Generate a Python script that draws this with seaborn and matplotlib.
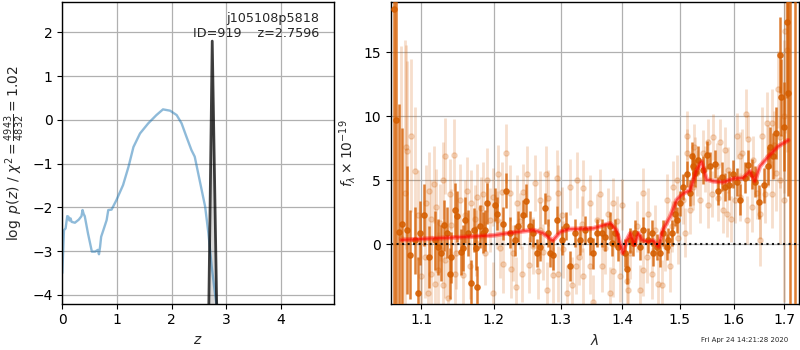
import matplotlib
matplotlib.use("Agg")
import matplotlib.pyplot as plt
import matplotlib.ticker as mticker
import seaborn as sns
import pandas as pd

# ---------------- data: left panel (redshift PDF) ----------------
pz_z = [0.0, 0.03, 0.06, 0.09, 0.11, 0.13, 0.15, 0.17, 0.23, 0.30, 0.35, 0.37,
        0.39, 0.41, 0.47, 0.54, 0.60, 0.65, 0.67, 0.69, 0.71, 0.75, 0.81, 0.84,
        0.90, 0.99, 1.11, 1.21, 1.30, 1.42, 1.57, 1.72, 1.84, 1.97, 2.09, 2.18,
        2.27, 2.36, 2.42, 2.51, 2.61, 2.67, 2.73, 2.79, 2.85]
pz_logp = [-3.50, -2.52, -2.48, -2.20, -2.21, -2.30, -2.25, -2.33, -2.35, -2.28,
           -2.20, -2.06, -2.15, -2.20, -2.60, -3.01, -3.01, -2.97, -3.07, -2.90,
           -2.67, -2.52, -2.29, -2.06, -2.05, -1.83, -1.49, -1.07, -0.62, -0.31,
           -0.08, 0.11, 0.24, 0.21, 0.11, -0.08, -0.39, -0.69, -0.84, -1.38,
           -1.98, -2.59, -3.35, -3.96, -4.50]
peak_z = [2.675, 2.74, 2.825]
peak_logp = [-4.5, 1.80, -4.5]
label_src = "j105108p5818"
label_id = "ID=919    z=2.7596"

# ---------------- data: right panel (spectrum) ----------------
bin_wave = [1.0649, 1.0676, 1.0710, 1.0748, 1.0817, 1.0856, 1.0913, 1.0956, 1.0979,
            1.1036, 1.1106, 1.1178, 1.1222, 1.1267, 1.1304, 1.1349, 1.1381, 1.1403,
            1.1450, 1.1485, 1.1532, 1.1564, 1.1596, 1.1634, 1.1680, 1.1718, 1.1750,
            1.1765, 1.1799, 1.1846, 1.1869, 1.1907,
            1.2017, 1.2050, 1.2137, 1.2176, 1.2235, 1.2308, 1.2357, 1.2431, 1.2471,
            1.2531, 1.2581, 1.2633, 1.2683, 1.2759, 1.2810, 1.2836, 1.2878, 1.2940,
            1.3018, 1.3085, 1.3148, 1.3227, 1.3307, 1.3387, 1.3468, 1.3511,
            1.3576, 1.3658, 1.3712, 1.3795, 1.3824, 1.3878, 1.3933, 1.4045, 1.4084,
            1.4130, 1.4187, 1.4215, 1.4301, 1.4358, 1.4444, 1.4502, 1.4530, 1.4589,
            1.4647, 1.4705, 1.4765, 1.4794, 1.4854, 1.4914, 1.4955, 1.5004, 1.5063,
            1.5125, 1.5185, 1.5216, 1.5245, 1.5276, 1.5337, 1.5418, 1.5492, 1.5554,
            1.5647, 1.5709, 1.5773, 1.5836, 1.5918, 1.5983, 1.6060, 1.6124, 1.6221,
            1.6285, 1.6352, 1.6417, 1.6502, 1.6582, 1.6662, 1.6716, 1.6770, 1.6837,
            1.6904, 1.6932, 1.6985, 1.7054, 1.7075, 1.7121, 1.7225]
bin_flux = [18.4, 9.7, 1.0, 1.6, 1.1, -0.8, 0.3, -3.8, 0.9,
            2.3, -1.0, 0.3, -0.2, -0.7, 1.5, 0.9, -2.3, -1.0,
            2.7, 2.2, -0.6, -0.3, 1.9, 0.9, -3.0, 1.1, -0.3,
            -3.3, 1.4, 0.9, 1.1, 3.2,
            3.1, 2.4, 1.6, 4.2, 0.9, 0.3, 1.4, 2.3, 3.4,
            1.4, 0.9, -0.7, -0.2, 2.8, 0.9, -0.7, -0.8, 1.9,
            0.3, 1.4, -1.7, 0.9, 0.3, 1.1, 0.3, -0.7,
            0.9, 0.9, 0.6, 1.4, 0.1, 0.9, -0.2, -0.7, -1.9,
            0.3, 0.1, 0.9, -0.2, 1.1, 0.3, 0.9, -0.7, -0.2,
            -0.7, 0.9, -0.2, 0.3, 0.9, 2.4, 1.9, 3.2, 4.5,
            5.5, 4.0, 6.9, 6.1, 5.6, 6.6, 5.8, 7.0, 6.1,
            6.3, 4.2, 5.3, 4.5, 4.6, 5.5, 4.9, 3.5, 5.2,
            6.2, 5.5, 4.9, 3.3, 4.6, 6.1, 7.6, 6.9, 8.7,
            14.8, 11.5, 9.2, 17.4, 11.8, -12.0, -14.0]
bin_err = [25.0, 15.0, 10.0, 7.5, 5.0, 3.5, 2.6, 2.8, 2.5,
           2.4, 2.4, 2.3, 2.2, 2.2, 2.0, 2.0, 2.0, 2.0,
           2.1, 2.0, 1.8, 1.8, 1.8, 1.8, 1.8, 1.7, 1.7,
           1.6, 1.7, 1.6, 1.6, 1.6,
           1.3, 1.3, 1.3, 1.4, 1.2, 1.2, 1.2, 1.2, 1.3,
           1.2, 1.1, 1.1, 1.1, 1.2, 1.1, 1.1, 1.2, 1.1,
           1.1, 1.1, 1.2, 1.1, 1.1, 1.1, 1.1, 1.2,
           1.1, 1.1, 1.1, 1.1, 1.0, 1.1, 1.1, 1.1, 1.2,
           1.0, 1.0, 1.0, 1.0, 1.0, 1.0, 1.0, 1.0, 1.0,
           1.1, 1.0, 1.0, 1.0, 1.0, 1.0, 1.0, 1.0, 1.0,
           1.0, 1.0, 1.1, 1.0, 1.1, 1.1, 1.1, 1.1, 1.1,
           1.1, 1.1, 1.1, 1.1, 1.1, 1.1, 1.1, 1.2, 1.2,
           1.2, 1.2, 1.2, 1.3, 1.4, 1.5, 1.6, 1.8, 2.0,
           3.0, 3.0, 3.5, 6.0, 8.0, 40.0, 40.0]

raw_wave = [1.0730, 1.0790, 1.0804, 1.0812, 1.0861, 1.0913, 1.0956, 1.1000, 1.1045,
            1.1066, 1.1089, 1.1098, 1.1133, 1.1133, 1.1165, 1.1178, 1.1199, 1.1222,
            1.1245, 1.1290, 1.1290, 1.1313, 1.1321, 1.1358, 1.1381, 1.1403, 1.1440,
            1.1450, 1.1472, 1.1518, 1.1564, 1.1588, 1.1619, 1.1657, 1.1680, 1.1727,
            1.1750, 1.1765, 1.1820, 1.1846, 1.1869, 1.1907, 1.1941,
            1.1983, 1.1992, 1.2041, 1.2064, 1.2089, 1.2114, 1.2137, 1.2176, 1.2235,
            1.2245, 1.2284, 1.2323, 1.2334, 1.2383, 1.2418, 1.2431, 1.2492, 1.2521,
            1.2572, 1.2607, 1.2658, 1.2683, 1.2683, 1.2733, 1.2774, 1.2795, 1.2810,
            1.2887, 1.2940, 1.2965, 1.2965, 1.3018, 1.3043, 1.3106, 1.3148, 1.3175,
            1.3244, 1.3264, 1.3295, 1.3334, 1.3360, 1.3360, 1.3468, 1.3468,
            1.3521, 1.3576, 1.3629, 1.3658, 1.3712, 1.3765, 1.3795, 1.3839, 1.3848,
            1.3906, 1.3961, 1.3990, 1.4075, 1.4102, 1.4130, 1.4245, 1.4301, 1.4347,
            1.4358, 1.4417, 1.4444, 1.4502, 1.4561, 1.4618, 1.4677, 1.4737, 1.4765,
            1.4824, 1.4854, 1.4883, 1.4955, 1.4972, 1.5063, 1.5094, 1.5125, 1.5136,
            1.5185, 1.5245, 1.5245,
            1.5258, 1.5276, 1.5307, 1.5368, 1.5429, 1.5461, 1.5522, 1.5522, 1.5586,
            1.5615, 1.5679, 1.5709, 1.5741, 1.5804, 1.5836, 1.5868, 1.5899, 1.5945,
            1.6028, 1.6060, 1.6111, 1.6124, 1.6157, 1.6240, 1.6266, 1.6285, 1.6352,
            1.6383, 1.6451, 1.6517, 1.6517, 1.6549, 1.6616, 1.6649, 1.6677, 1.6749,
            1.6749, 1.6782, 1.6837, 1.6863, 1.6904, 1.6917, 1.6985, 1.6985, 1.7020,
            1.7054]
raw_flux = [0.5, 4.0, 7.6, 7.3, 8.5, 5.7, 2.3, -2.5, -1.0,
            3.2, -3.8, 4.2, -2.3, 2.0, 4.7, -3.1, 2.9, -2.0,
            1.7, 5.0, -3.2, -1.2, 6.9, -4.2, 3.9, 1.5, 7.0,
            -2.3, -0.7, 3.5, -2.4, 2.3, 4.2, -1.7, 3.2, 2.0,
            0.1, 3.7, 2.8, 3.9, -0.7, 5.0, 1.9,
            -3.8, 3.7, 1.9, 5.5, -0.3, 4.1, -1.5, 7.1, 4.0,
            -1.9, -0.7, -3.3, 3.2, 1.8, -2.3, 4.1, 5.5, -1.6,
            -0.1, 4.8, -2.1, 3.5, 1.1, -0.6, 5.5, -3.6, 3.6,
            -2.4, 5.2, 4.0, -2.3, 2.3, -0.4, -3.8, 4.5, -3.2,
            -1.7, 5.0, -1.0, 1.6, 4.4, -2.5, 3.2, -1.7,
            -4.5, 1.9, 3.9, -1.7, -0.3, 2.4, -3.8, 3.2, -2.1,
            1.8, -2.5, 3.1, -2.9, -3.6, -0.7, 1.4, -3.6, 4.0,
            -2.0, -1.0, 2.4, -2.3, 1.1, -3.1, -3.2, -0.1, 3.5,
            -1.7, 1.4, 4.5, 5.0, 0.5, 3.5, 0.9, 8.5, 7.1,
            2.7, 5.0, 4.5,
            7.6, 6.6, 5.6, 3.5, 7.1, 5.9, 8.0, 3.1, 3.9,
            8.4, 6.1, 3.6, 8.0, 2.7, 7.4, 2.4, 5.8, 2.0,
            3.5, 8.5, 6.9, 3.7, 7.1, 10.2, 1.9, 8.2, 2.9,
            6.6, 4.0, 2.4, 0.3, 8.5, 3.9, 9.5, 6.9, 9.5,
            3.9, 7.8, 5.6, 12.1, 5.0, 8.4, 10.0, 3.5, 16.7,
            15.2]
raw_err = [15.0, 12.0, 8.0, 7.0, 6.0, 5.0, 3.5, 3.2, 3.2,
           3.0, 3.0, 3.0, 3.0, 3.0, 3.0, 3.0, 3.0, 3.0,
           3.0, 3.0, 3.0, 3.0, 3.0, 3.0, 2.8, 2.8, 2.8,
           2.8, 2.8, 2.8, 2.8, 2.7, 2.6, 2.6, 2.6, 2.6,
           2.6, 2.6, 2.5, 2.5, 2.5, 2.5, 2.5,
           2.4, 2.3, 2.3, 2.3, 2.3, 2.3, 2.3, 2.3, 2.2,
           2.3, 2.2, 2.3, 2.2, 2.2, 2.2, 2.2, 2.2, 2.2,
           2.2, 2.2, 2.2, 2.2, 2.2, 2.2, 2.2, 2.2, 2.2,
           2.2, 2.2, 2.2, 2.2, 2.2, 2.2, 2.2, 2.2, 2.2,
           2.2, 2.2, 2.2, 2.2, 2.2, 2.2, 2.2, 2.2,
           2.1, 2.0, 2.0, 2.0, 2.0, 2.0, 2.0, 2.0, 2.0,
           2.0, 2.0, 2.0, 2.0, 2.0, 2.0, 2.0, 2.0, 2.0,
           2.0, 2.0, 2.0, 2.0, 2.0, 2.0, 2.0, 2.0, 2.0,
           2.0, 2.0, 2.0, 2.0, 2.0, 1.9, 1.9, 1.9, 1.9,
           1.9, 1.9, 1.8,
           1.8, 1.8, 1.8, 1.8, 1.8, 1.8, 1.8, 1.8, 1.8,
           1.8, 1.8, 1.8, 1.8, 1.8, 1.8, 1.8, 1.8, 1.8,
           1.8, 1.8, 1.9, 1.9, 1.9, 1.9, 1.9, 1.9, 1.9,
           1.9, 2.0, 2.0, 2.0, 2.2, 2.2, 2.4, 2.4, 2.6,
           2.6, 2.6, 3.0, 3.0, 5.0, 4.0, 6.0, 8.0, 8.0,
           8.0]

model_wave = [1.0744, 1.100, 1.150, 1.200, 1.2186, 1.258, 1.2733, 1.2878, 1.300,
              1.3147, 1.352, 1.3797, 1.3898, 1.4007, 1.4075, 1.4134, 1.4198, 1.4273,
              1.4332, 1.4421, 1.4530, 1.4618, 1.4695, 1.4824, 1.494, 1.506, 1.5184,
              1.5305, 1.5396, 1.5486, 1.5615, 1.5797, 1.600, 1.618, 1.6314, 1.6408,
              1.651, 1.671, 1.6876, 1.7079]
model_flux = [0.34, 0.42, 0.55, 0.70, 0.86, 1.12, 0.86, 0.29, 0.99,
              1.19, 1.25, 1.64, 1.12, -0.70, 0.34, 0.86, -0.05, 0.86,
              0.34, 0.21, 0.29, -0.18, 1.12, 2.16, 3.46, 3.98, 4.24,
              5.81, 6.46, 5.06, 4.93, 4.85, 5.14, 5.19, 5.71, 4.93,
              6.10, 7.00, 7.66, 8.13]

wave_ticks = [1.1, 1.2, 1.3, 1.4, 1.5, 1.6, 1.7]
wave_tick_labels = ["1.1", "1.2", "1.3", "1.4", "1.5", "1.6", "1.7"]
timestamp = "Fri Apr 24 14:21:28 2020"

# ---------------- figure ----------------
sns.set_style("white")
plt.rcParams["font.family"] = ["DejaVu Sans"]
plt.rcParams["axes.edgecolor"] = "black"
plt.rcParams["xtick.bottom"] = True
plt.rcParams["ytick.left"] = True

fig = plt.figure(figsize=(8, 3.5), dpi=100)
ax1 = fig.add_axes([0.0779, 0.1323, 0.3399, 0.8628])
ax2 = fig.add_axes([0.4884, 0.1323, 0.5108, 0.8628])

for ax in (ax1, ax2):
    ax.grid(True, color="#b0b0b0", linewidth=0.9)
    ax.set_axisbelow(True)
    for sp in ax.spines.values():
        sp.set_linewidth(1.0)
        sp.set_color("black")
    ax.tick_params(direction="out", length=3.5, width=0.8, labelsize=10, colors="black")

# left panel
df_pz = pd.DataFrame({"z": pz_z, "logp": pz_logp})
sns.lineplot(data=df_pz, x="z", y="logp", ax=ax1, color="#1f77b4", alpha=0.5,
             linewidth=1.7, estimator=None, sort=False)
df_pk = pd.DataFrame({"z": peak_z, "logp": peak_logp})
ax1.fill_between(peak_z, peak_logp, -5, color="k", alpha=0.15, linewidth=0)
sns.lineplot(data=df_pk, x="z", y="logp", ax=ax1, color="k", alpha=0.75,
             linewidth=2.0, estimator=None, sort=False)
ax1.set_xlim(0, 4.97)
ax1.set_ylim(-4.2, 2.70)
ax1.set_xticks([0, 1, 2, 3, 4])
ax1.set_yticks([-4, -3, -2, -1, 0, 1, 2])
ax1.set_xlabel(r"$z$", fontsize=10)
ax1.set_ylabel(r"$\log\ p(z)$ / $\chi^2=\frac{4943}{4832}=1.02$", fontsize=10)
ax1.text(0.945, 0.965, label_src + "\n" + label_id, transform=ax1.transAxes,
         ha="right", va="top", fontsize=9.2, linespacing=1.15)

# right panel
orange = (0.8352941, 0.3686275, 0.0)
ax2.errorbar(raw_wave, raw_flux, yerr=raw_err, color=orange, alpha=0.2,
             marker="o", markersize=3.8, linestyle="none", elinewidth=2.0, zorder=2)
ax2.errorbar(bin_wave, bin_flux, yerr=bin_err, color=orange, alpha=0.8,
             marker="o", markersize=3.8, linestyle="none", elinewidth=1.8, zorder=3)
df_m = pd.DataFrame({"wave": model_wave, "flux": model_flux})
sns.lineplot(data=df_m, x="wave", y="flux", ax=ax2, color="red", alpha=0.35,
             linewidth=3.5, estimator=None, sort=False, zorder=4)
sns.lineplot(data=df_m, x="wave", y="flux", ax=ax2, color="red", alpha=0.55,
             linewidth=1.6, estimator=None, sort=False, zorder=5)
ax2.axhline(0, color="black", linestyle=":", linewidth=1.5, alpha=0.9, zorder=6)

ax2.set_xscale("log")
ax2.set_xlim(1.0604, 1.731)
ax2.set_ylim(-4.64, 18.96)
ax2.xaxis.set_major_locator(mticker.FixedLocator(wave_ticks))
ax2.xaxis.set_major_formatter(mticker.FixedFormatter(wave_tick_labels))
ax2.xaxis.set_minor_locator(mticker.NullLocator())
ax2.xaxis.set_minor_formatter(mticker.NullFormatter())
ax2.set_yticks([0, 5, 10, 15])
ax2.set_xlabel(r"$\lambda$", fontsize=10)
ax2.set_ylabel(r"$f_\lambda\times10^{-19}$", fontsize=10)

fig.text(0.985, 0.0286, timestamp, ha="right", va="center", fontsize=5)

fig.savefig("out.png", dpi=100)
